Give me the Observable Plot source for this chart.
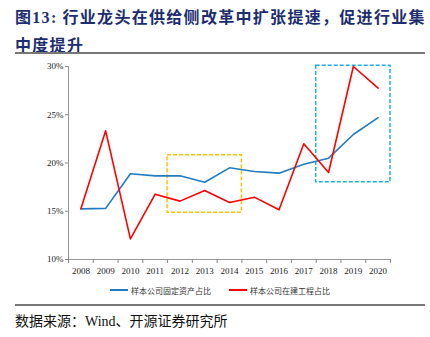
<!DOCTYPE html>
<html><head><meta charset="utf-8">
<script src="https://cdn.jsdelivr.net/npm/d3@7"></script>
<script src="https://cdn.jsdelivr.net/npm/@observablehq/plot@0.6"></script>
<style>
body{margin:0;background:#fff;width:430px;height:337px;position:relative;overflow:hidden;font-family:"Noto Sans CJK SC",sans-serif}
#title{position:absolute;left:15px;top:3px;font-size:16px;font-weight:bold;color:#1c2d70;line-height:26px;letter-spacing:1.3px;white-space:nowrap}
.serif{font-family:"Liberation Serif",serif}
.rule{position:absolute;left:15px;width:410px;height:1.5px;background:#777}
#chart{position:absolute;left:0;top:56px}
#legend{position:absolute;top:283px;left:0;width:430px;font-size:8px;color:#333}
.lg{position:absolute;top:0;display:flex;align-items:center;height:14px;white-space:nowrap}
.sw{display:inline-block;width:18px;height:2px;margin-right:3px}
#source{position:absolute;left:15px;top:310px;font-size:14px;color:#111;white-space:nowrap}
g[aria-label="y-axis tick"], g[aria-label="x-axis tick"]{color:#888}
</style></head><body>
<div id="title">图<span class="serif">13:</span>&nbsp;行业龙头在供给侧改革中扩张提速，促进行业集<br>中度提升</div>
<div class="rule" style="top:52px"></div>
<div id="chart"></div>
<div id="legend"></div>
<div class="rule" style="top:304px"></div>
<div id="source">数据来源：<span class="serif">Wind</span>、开源证券研究所</div>
<script>
const years = [2008,2009,2010,2011,2012,2013,2014,2015,2016,2017,2018,2019,2020];
const fixedAssets = [15.25,15.3,18.88,18.67,18.67,18.0,19.5,19.12,18.95,19.88,20.5,22.95,24.7];
const construction = [15.25,23.33,12.14,16.77,16.05,17.15,15.91,16.46,15.15,21.99,19.02,30.0,27.75];
const seriesNames = ["样本公司固定资产占比","样本公司在建工程占比"];
const seriesColors = ["#1f7cc4","#ff0000"];
const yTicks = [10,15,20,25,30];
// highlight boxes (data units)
const boxFrom = [2012,2018];
const boxTo = [2014,2020];
const boxLow = [14.85,18.0];
const boxHigh = [20.8,30.07];
const boxColors = ["#ffc000","#1fb0e8"];

const rows = [];
years.forEach((y,i)=>{
  rows.push({year:y, v:fixedAssets[i], s:seriesNames[0]});
});
years.forEach((y,i)=>{
  rows.push({year:y, v:construction[i], s:seriesNames[1]});
});
const boxes = boxFrom.map((f,i)=>({x1:f-0.5, x2:boxTo[i]+0.5, y1:boxLow[i], y2:boxHigh[i], c:boxColors[i]}));
const bounds = d3.range(years.length+1).map(k=>years[0]-0.5+k);

const chart = Plot.plot({
  width:430, height:225,
  marginTop:10, marginBottom:22, marginLeft:68, marginRight:40,
  style:{background:"transparent", color:"#222", fontFamily:"Liberation Serif, serif", fontSize:"9px"},
  x:{domain:[years[0]-0.5, years[years.length-1]+0.5]},
  y:{domain:[10,30]},
  marks:[
    Plot.ruleY([10],{stroke:"#999",strokeWidth:1}),
    Plot.ruleX([years[0]-0.5],{stroke:"#999",strokeWidth:1}),
    Plot.axisY({ticks:yTicks, tickSize:3, tickPadding:2, tickFormat:d=>d+"%", label:null, fontSize:9}),
    Plot.axisX({ticks:bounds, tickSize:4, tickFormat:()=>"", label:null}),
    Plot.axisX({ticks:years, tickSize:0, tickPadding:8, tickFormat:d=>String(d), label:null, fontSize:9}),
    Plot.rect(boxes,{x1:"x1",x2:"x2",y1:"y1",y2:"y2",fill:"none",stroke:"c",strokeWidth:1.5,strokeDasharray:"4,2"}),
    Plot.line(rows,{x:"year",y:"v",z:"s",stroke:d=>seriesColors[seriesNames.indexOf(d.s)],strokeWidth:1.6})
  ]
});
document.getElementById("chart").appendChild(chart);

const lg = document.getElementById("legend");
const lefts = [110,229];
seriesNames.forEach((n,i)=>{
  const d = document.createElement("div");
  d.className="lg"; d.style.left=lefts[i]+"px";
  d.innerHTML = `<span class="sw" style="background:${seriesColors[i]}"></span>${n}`;
  lg.appendChild(d);
});
</script>
</body></html>
